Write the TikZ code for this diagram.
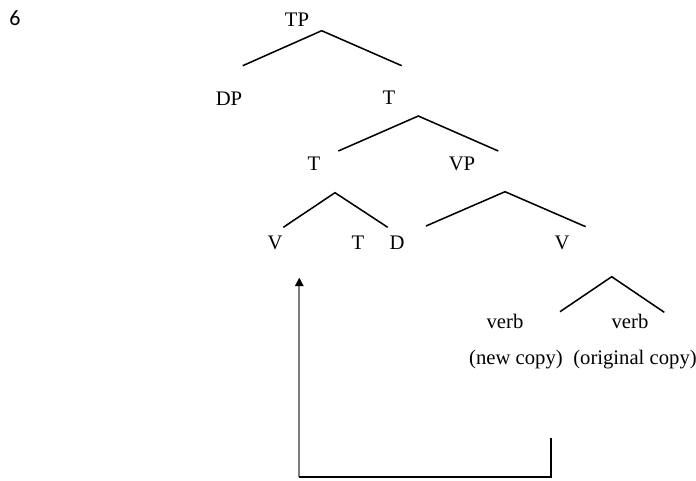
\documentclass[tikz,border=0pt]{standalone}
\usepackage{fontspec}
\setmainfont{Liberation Serif}
\newfontfamily\numfont{Carlito}
\usetikzlibrary{arrows.meta}
\definecolor{arrowgray}{RGB}{125,125,125}
\begin{document}
\begin{tikzpicture}[x=0.75pt,y=-0.75pt,
  lbl/.style={anchor=base,inner sep=0pt,font=\fontsize{15.5}{18}\selectfont},
  branch/.style={line width=1.15pt,black},
  movepath/.style={line width=1.4pt,black},
  moveup/.style={line width=1.6pt,arrowgray,-{Triangle[length=6.5pt,width=6.2pt,color=black]}}]
\useasboundingbox (0,0) rectangle (696,480);
% labels
\node[lbl,font=\numfont\fontsize{16.5}{18}\selectfont] (six) at (15,25.5) {6};
\node[lbl] (tp) at (297,26) {TP};
\node[lbl] (dp) at (229,105.5) {DP};
\node[lbl] (tbar) at (389,104.5) {T};
\node[lbl] (tzero) at (314,170) {T};
\node[lbl] (vp) at (462,170) {VP};
\node[lbl] (vhead) at (275,249) {V};
\node[lbl] (tlow) at (358,249) {T};
\node[lbl] (dlow) at (397,249) {D};
\node[lbl] (vbar) at (562,249) {V};
\node[lbl] (verbnew) at (505,328) {verb};
\node[lbl] (verborig) at (630,328) {verb};
\node[lbl] (newcopy) at (516,364) {(new copy)};
\node[lbl] (origcopy) at (635,364) {(original copy)};
% branch points
\coordinate (tpA) at (321.7,30.7);
\coordinate (tpL) at (242.7,65.7);
\coordinate (tpR) at (401.7,65.7);
\coordinate (tbA) at (418.3,116);
\coordinate (tbL) at (338.3,151);
\coordinate (tbR) at (498.3,151);
\coordinate (tzA) at (335,192.7);
\coordinate (tzL) at (283.3,227.3);
\coordinate (tzR) at (387.7,227.3);
\coordinate (vpA) at (505,191.7);
\coordinate (vpL) at (426,226);
\coordinate (vpR) at (585.7,226.7);
\coordinate (vbA) at (611.7,276.7);
\coordinate (vbL) at (560,311.7);
\coordinate (vbR) at (664.3,312.3);
% movement path
\coordinate (mvstart) at (551,437.7);
\coordinate (mvcorner) at (551,477.3);
\coordinate (mvleft) at (299.3,477.3);
\coordinate (mvtip) at (299.3,277.5);
% branches
\draw[branch] (tpL) -- (tpA) -- (tpR);
\draw[branch] (tbL) -- (tbA) -- (tbR);
\draw[branch] (tzL) -- (tzA) -- (tzR);
\draw[branch] (vpL) -- (vpA) -- (vpR);
\draw[branch] (vbL) -- (vbA) -- (vbR);
% movement arrow
\draw[moveup] (mvleft) -- (mvtip);
\draw[movepath] (mvstart) -- (mvcorner) -- (mvleft);
\end{tikzpicture}
\end{document}
